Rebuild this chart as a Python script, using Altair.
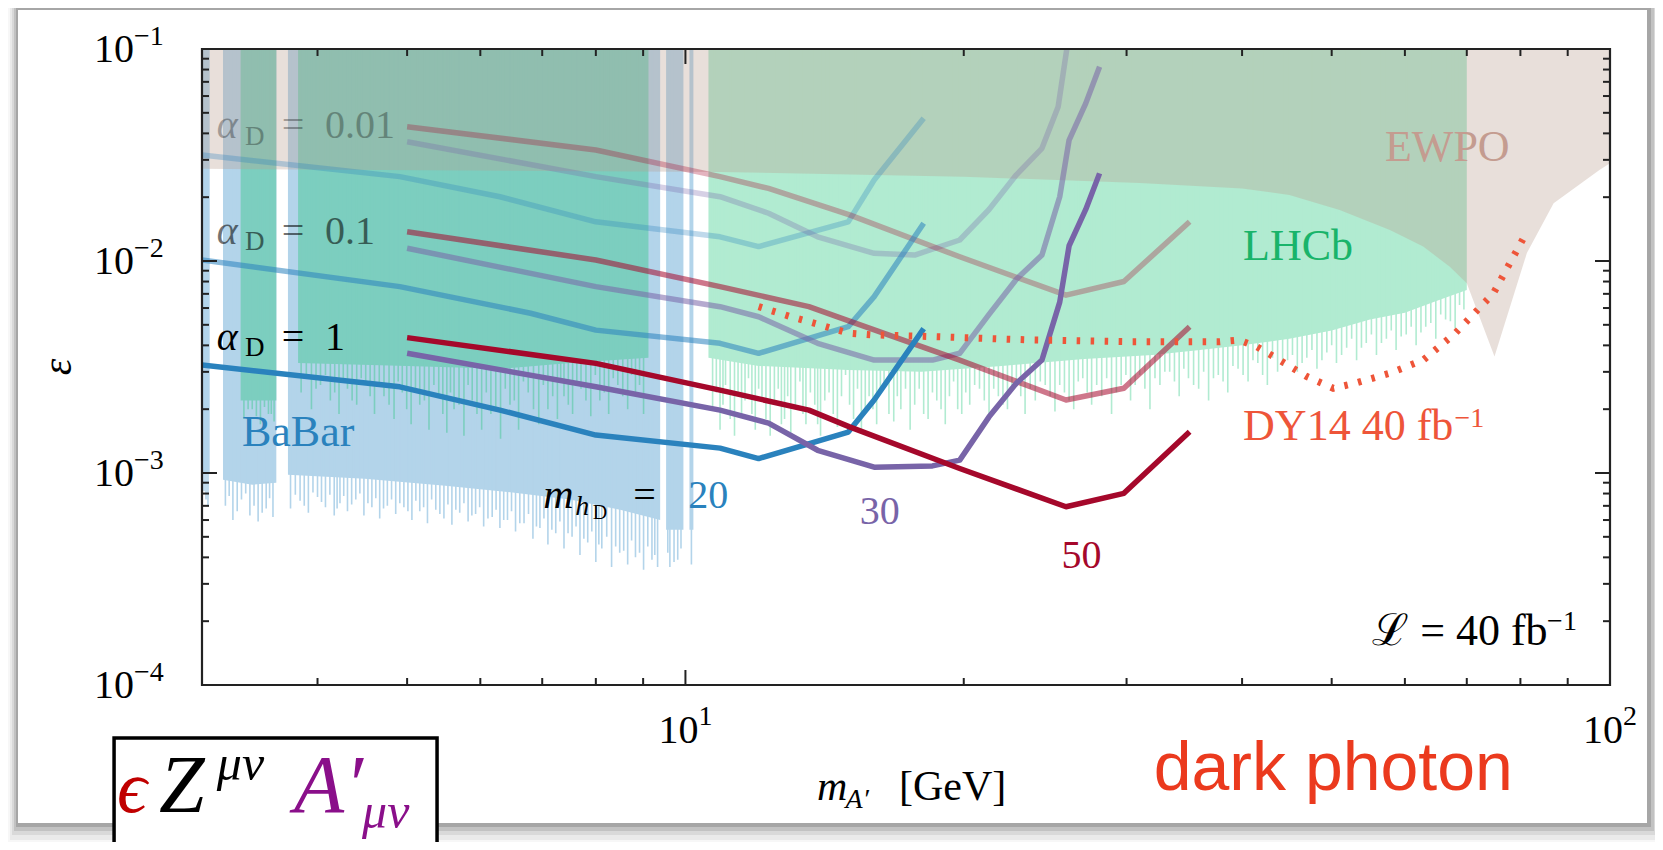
import altair as alt
import pandas as pd

SERIF = "Liberation Serif"
SANS = "Liberation Sans"
W, H = 1408, 636

# ---------------- axis ticks ----------------
x_major_ticks = [10]
x_minor_ticks = [4, 5, 6, 7, 8, 9, 20, 30, 40, 50, 60, 70, 80, 90]
y_major_ticks = [1e-3, 1e-2]
y_minor_ticks = [2e-4, 3e-4, 4e-4, 5e-4, 6e-4, 7e-4, 8e-4, 9e-4,
                 2e-3, 3e-3, 4e-3, 5e-3, 6e-3, 7e-3, 8e-3, 9e-3,
                 2e-2, 3e-2, 4e-2, 5e-2, 6e-2, 7e-2, 8e-2, 9e-2]
x_label_vals = [10, 100]
x_label_exps = ["1", "2"]
y_label_vals = [1e-4, 1e-3, 1e-2, 1e-1]
y_label_exps = ["\u22124", "\u22123", "\u22122", "\u22121"]

# ---------------- sensitivity curves (m_A' [GeV], epsilon) ----------------
m_h20_a1 = [3.0, 4.91, 6.3, 8.0, 10.9, 12.0, 15.0, 16.0, 18.1]
e_h20_a1 = [3.23e-3, 2.55e-3, 1.98e-3, 1.51e-3, 1.31e-3, 1.17e-3, 1.56e-3, 2.21e-3, 4.8e-3]
m_h20_a01 = [3.0, 4.91, 6.8, 8.0, 10.9, 12.0, 15.0, 16.0, 18.1]
e_h20_a01 = [1.01e-2, 7.57e-3, 5.67e-3, 4.72e-3, 4.09e-3, 3.67e-3, 4.9e-3, 6.79e-3, 1.506e-2]
m_h20_a001 = [3.0, 4.91, 6.3, 8.0, 10.9, 12.0, 15.0, 16.0, 18.1]
e_h20_a001 = [3.16e-2, 2.50e-2, 2.01e-2, 1.53e-2, 1.30e-2, 1.17e-2, 1.53e-2, 2.41e-2, 4.71e-2]

m_h30_a1 = [5.0, 8.0, 10.9, 12.3, 13.9, 16.0, 18.5, 19.8, 21.3, 22.8, 24.3, 25.4, 26.0, 27.1, 28.05]
e_h30_a1 = [3.67e-3, 2.55e-3, 1.98e-3, 1.72e-3, 1.28e-3, 1.065e-3, 1.08e-3, 1.15e-3, 1.84e-3,
            2.65e-3, 3.41e-3, 6.4e-3, 1.18e-2, 1.75e-2, 2.59e-2]
m_h30_a01 = [5.0, 8.0, 10.9, 12.0, 13.9, 16.0, 18.5, 19.8, 21.3, 22.8, 24.3, 25.4, 26.0, 27.1, 28.05]
e_h30_a01 = [1.148e-2, 7.57e-3, 6.09e-3, 5.46e-3, 4.09e-3, 3.41e-3, 3.41e-3, 3.67e-3, 5.6e-3,
             8.2e-3, 1.067e-2, 2.01e-2, 3.72e-2, 5.54e-2, 8.25e-2]
m_h30_a001 = [5.0, 8.0, 10.9, 12.3, 13.9, 16.0, 17.7, 19.8, 21.3, 22.8, 24.3, 25.3, 26.0]
e_h30_a001 = [3.65e-2, 2.50e-2, 2.01e-2, 1.68e-2, 1.30e-2, 1.087e-2, 1.067e-2, 1.256e-2, 1.75e-2,
              2.55e-2, 3.4e-2, 5.34e-2, 1.18e-1]

m_h50_a1 = [5.0, 8.0, 10.9, 13.6, 15.05, 19.8, 25.8, 29.8, 35.1]
e_h50_a1 = [4.35e-3, 3.29e-3, 2.46e-3, 1.98e-3, 1.65e-3, 1.05e-3, 6.93e-4, 8.02e-4, 1.566e-3]
m_h50_a01 = [5.0, 8.0, 10.9, 13.6, 15.05, 19.8, 25.8, 29.8, 35.1]
e_h50_a01 = [1.374e-2, 1.011e-2, 7.57e-3, 6.09e-3, 5.2e-3, 3.41e-3, 2.21e-3, 2.51e-3, 4.9e-3]
m_h50_a001 = [5.0, 8.0, 10.9, 12.3, 15.05, 19.8, 25.8, 29.8, 35.1]
e_h50_a001 = [4.30e-2, 3.34e-2, 2.50e-2, 2.20e-2, 1.65e-2, 1.047e-2, 6.9e-3, 8.0e-3, 1.532e-2]

# DY14 40 fb^-1 projection (dotted)
dy_m = [12.0, 13.0, 14.0, 15.0, 16.0, 18.5, 23.7, 30.4, 37.8, 39.7, 41.5, 43.9, 47.0, 50.2,
        53.0, 57.7, 62.8, 68.0, 74.8, 80.6]
dy_e = [6.09e-3, 5.46e-3, 4.99e-3, 4.57e-3, 4.48e-3, 4.40e-3, 4.24e-3, 4.16e-3, 4.16e-3,
        4.24e-3, 3.94e-3, 3.41e-3, 2.85e-3, 2.51e-3, 2.65e-3, 2.95e-3, 3.41e-3, 4.56e-3,
        7.04e-3, 1.28e-2]

# ---------------- excluded regions ----------------
ewpo_m = [3.0, 10.9, 20.0, 31.0, 40.0, 45.0, 51.0, 57.8, 62.8, 67.1, 70.0, 75.0, 81.3, 86.9, 97.4, 100.0]
ewpo_e = [2.72e-2, 2.63e-2, 2.50e-2, 2.33e-2, 2.20e-2, 2.05e-2, 1.74e-2, 1.40e-2, 1.17e-2,
          9.4e-3, 7.85e-3, 3.54e-3, 1.09e-2, 1.87e-2, 2.69e-2, 2.89e-2]

babar_m = [3.0, 3.058, 3.161, 3.4, 3.61, 3.716, 4.5, 5.5, 6.5, 7.5, 8.5, 9.39, 9.53, 9.95, 10.10, 10.20]
babar_e = [1.0e-3, 1.0e-3, 9.3e-4, 8.8e-4, 9.0e-4, 9.8e-4, 9.4e-4, 8.7e-4, 8.1e-4, 7.5e-4, 6.7e-4,
           6.0e-4, 5.4e-4, 5.4e-4, 5.4e-4, 5.4e-4]
babar_seg = [1, 1, 2, 2, 2, 3, 3, 3, 3, 3, 3, 3, 4, 4, 5, 5]
babar_spike_m = [3.03, 3.18, 3.24, 3.31, 3.38, 3.45, 3.52, 3.58,
                 3.74, 3.83, 3.91, 4.00, 4.08, 4.17, 4.23, 4.31, 4.40, 4.49,
                 4.58, 4.67, 4.76, 4.86, 4.96, 5.06, 5.16, 5.26, 5.37, 5.48,
                 5.59, 5.70, 5.82, 5.93, 6.05, 6.18, 6.30, 6.42, 6.55, 6.69,
                 6.84, 6.96, 7.10, 7.24, 7.39, 7.54, 7.69, 7.84, 8.00, 8.12,
                 8.32, 8.49, 8.66, 8.83, 9.01, 9.20, 9.33, 9.62, 9.81, 10.15]
babar_spike_e = [7.5e-4, 7.0e-4, 6.0e-4, 7.5e-4, 6.3e-4, 5.9e-4, 6.8e-4, 6.2e-4,
                 6.8e-4, 7.4e-4, 6.5e-4, 7.7e-4, 6.9e-4, 6.3e-4, 7.2e-4, 6.6e-4, 7.5e-4, 6.3e-4,
                 6.9e-4, 6.1e-4, 7.0e-4, 6.4e-4, 6.9e-4, 6.0e-4, 6.6e-4, 5.8e-4, 6.7e-4, 6.1e-4,
                 5.7e-4, 6.5e-4, 5.9e-4, 6.4e-4, 5.6e-4, 6.2e-4, 5.5e-4, 6.0e-4, 5.3e-4, 5.8e-4,
                 4.9e-4, 5.5e-4, 4.6e-4, 5.2e-4, 4.4e-4, 5.0e-4, 4.1e-4, 4.7e-4, 3.8e-4, 4.4e-4,
                 3.6e-4, 4.2e-4, 3.7e-4, 4.0e-4, 3.5e-4, 3.9e-4, 3.6e-4, 3.6e-4, 3.9e-4, 3.7e-4]
babar_spike2_m = [3.015, 3.045,
                  3.21, 3.275, 3.345, 3.415, 3.485, 3.55,
                  3.785, 3.87, 3.955, 4.04, 4.125, 4.20, 4.27, 4.355, 4.445, 4.535,
                  4.625, 4.715, 4.81, 4.91, 5.01, 5.11, 5.21, 5.315, 5.425, 5.535,
                  5.645, 5.76, 5.875, 5.99, 6.115, 6.24, 6.36, 6.485, 6.62, 6.765,
                  6.90, 7.03, 7.17, 7.315, 7.465, 7.615, 7.765, 7.92, 8.06, 8.22,
                  8.405, 8.575, 8.745, 8.92, 9.105, 9.265,
                  9.57, 9.72, 9.89]
babar_spike2_e = [8.2e-4, 7.0e-4,
                  7.8e-4, 6.6e-4, 8.0e-4, 7.0e-4, 6.5e-4, 7.6e-4,
                  7.9e-4, 7.0e-4, 8.1e-4, 7.3e-4, 7.9e-4, 6.8e-4, 7.8e-4, 7.1e-4, 8.0e-4, 7.2e-4,
                  7.6e-4, 6.8e-4, 7.5e-4, 7.2e-4, 6.6e-4, 7.4e-4, 6.9e-4, 7.5e-4, 6.4e-4, 7.1e-4,
                  6.7e-4, 7.2e-4, 6.3e-4, 6.9e-4, 6.1e-4, 6.7e-4, 6.0e-4, 6.6e-4, 5.8e-4, 6.4e-4,
                  5.6e-4, 6.1e-4, 5.4e-4, 5.9e-4, 5.2e-4, 5.6e-4, 4.9e-4, 5.3e-4, 4.6e-4, 5.0e-4,
                  4.5e-4, 4.3e-4, 4.8e-4, 4.2e-4, 4.5e-4, 4.1e-4,
                  4.2e-4, 3.8e-4, 4.4e-4]

lhcb_lo_m = [3.303, 3.61, 3.811, 5.0, 6.3, 7.5, 9.12]
lhcb_lo_e = [2.2e-3, 2.2e-3, 3.3e-3, 3.2e-3, 3.1e-3, 3.3e-3, 3.5e-3]
lhcb_lo_seg = [1, 1, 2, 2, 2, 2, 2]
lhcb_lo_spike_m = [3.33, 3.40, 3.47, 3.54, 3.59,
                   3.84, 3.94, 4.03, 4.13, 4.22, 4.31, 4.41, 4.51, 4.61, 4.72,
                   4.84, 4.94, 5.05, 5.16, 5.28, 5.41, 5.52, 5.62, 5.76, 5.88,
                   6.02, 6.16, 6.31, 6.46, 6.60, 6.76, 6.94, 7.10, 7.27, 7.39,
                   7.55, 7.71, 7.90, 8.08, 8.26, 8.45, 8.66, 8.83, 9.01]
lhcb_lo_spike_e = [1.8e-3, 2.0e-3, 1.7e-3, 1.9e-3, 1.75e-3,
                   2.4e-3, 2.0e-3, 2.6e-3, 2.2e-3, 1.9e-3, 2.5e-3, 2.1e-3, 2.7e-3, 1.9e-3, 2.3e-3,
                   1.8e-3, 2.4e-3, 1.7e-3, 2.1e-3, 1.6e-3, 2.3e-3, 1.55e-3, 2.0e-3, 1.5e-3, 2.2e-3,
                   1.6e-3, 1.9e-3, 1.45e-3, 2.1e-3, 1.6e-3, 2.4e-3, 1.7e-3, 2.0e-3, 1.8e-3, 2.3e-3,
                   1.9e-3, 2.5e-3, 1.85e-3, 2.2e-3, 1.9e-3, 2.6e-3, 2.0e-3, 2.4e-3, 1.9e-3]
lhcb_lo_spike2_m = [3.365, 3.435, 3.505, 3.565,
                    3.89, 3.985, 4.08, 4.175, 4.265, 4.36, 4.46, 4.56, 4.665, 4.78,
                    4.89, 4.995, 5.105, 5.22, 5.345, 5.465, 5.57, 5.69, 5.82, 5.95,
                    6.09, 6.235, 6.385, 6.53, 6.68, 6.85, 7.02, 7.185, 7.33, 7.47,
                    7.63, 7.805, 7.99, 8.17, 8.355, 8.555, 8.745, 8.92]
lhcb_lo_spike2_e = [2.0e-3, 1.85e-3, 2.05e-3, 1.9e-3,
                    2.8e-3, 2.5e-3, 2.9e-3, 2.4e-3, 2.7e-3, 2.2e-3, 2.8e-3, 2.3e-3, 2.6e-3, 2.1e-3,
                    2.7e-3, 2.0e-3, 2.5e-3, 2.2e-3, 2.6e-3, 1.9e-3, 2.4e-3, 2.1e-3, 2.6e-3, 1.9e-3,
                    2.4e-3, 2.0e-3, 2.5e-3, 2.2e-3, 2.7e-3, 2.0e-3, 2.6e-3, 2.3e-3, 2.8e-3, 2.1e-3,
                    2.7e-3, 2.2e-3, 2.9e-3, 2.4e-3, 2.8e-3, 2.3e-3, 2.9e-3, 2.6e-3]

lhcb_hi_m = [10.59, 12.0, 15.0, 18.0, 22.0, 27.0, 32.0, 36.0, 40.0, 45.0, 50.0, 55.0, 60.0, 65.0, 70.0]
lhcb_hi_e = [3.5e-3, 3.2e-3, 3.06e-3, 3.0e-3, 3.2e-3, 3.45e-3, 3.6e-3, 3.8e-3, 4.0e-3, 4.3e-3,
             4.7e-3, 5.3e-3, 5.7e-3, 6.5e-3, 7.3e-3]
lhcb_hi_spike_m = [10.7, 10.9, 11.05, 11.3, 11.5, 11.7, 11.9, 12.1, 12.35, 12.6,
                   12.8, 13.0, 13.3, 13.5, 13.8, 14.0, 14.3, 14.6, 14.9, 15.2,
                   15.5, 15.8, 16.1, 16.4, 16.8, 17.1, 17.5, 17.9, 18.3, 18.7,
                   19.1, 19.5, 19.9, 20.3, 20.8, 21.3, 21.8, 22.3, 22.8, 23.3,
                   23.9, 24.5, 25.1, 25.7, 26.3, 26.9, 27.5, 28.2, 28.9, 29.6,
                   30.3, 31.0, 31.8, 32.6, 33.4, 34.2, 35.0, 35.9, 36.8, 37.7,
                   38.6, 39.6, 40.6, 41.6, 42.6, 43.7, 44.8, 45.9, 47.0, 48.2,
                   49.4, 50.6, 51.9, 53.2, 54.5, 55.9, 57.3, 58.7, 60.2, 61.7,
                   63.2, 64.8, 66.4, 68.0, 69.5]
lhcb_hi_spike_e = [2.0e-3, 1.6e-3, 2.6e-3, 1.5e-3, 1.9e-3, 2.8e-3, 1.6e-3, 2.2e-3, 1.5e-3, 2.5e-3,
                   1.8e-3, 1.55e-3, 2.7e-3, 1.7e-3, 2.1e-3, 1.5e-3, 2.4e-3, 1.65e-3, 2.9e-3, 1.8e-3,
                   1.6e-3, 2.3e-3, 1.7e-3, 2.6e-3, 1.75e-3, 2.0e-3, 1.6e-3, 2.5e-3, 1.8e-3, 2.2e-3,
                   1.7e-3, 2.7e-3, 1.9e-3, 2.1e-3, 2.5e-3, 1.85e-3, 2.3e-3, 2.0e-3, 2.7e-3, 1.9e-3,
                   2.2e-3, 2.6e-3, 1.95e-3, 2.4e-3, 2.0e-3, 2.8e-3, 2.1e-3, 2.3e-3, 1.9e-3, 2.6e-3,
                   2.2e-3, 2.9e-3, 2.0e-3, 2.6e-3, 3.0e-3, 2.3e-3, 2.8e-3, 2.5e-3, 2.2e-3, 2.9e-3,
                   2.4e-3, 3.1e-3, 2.7e-3, 3.3e-3, 2.6e-3, 3.0e-3, 3.4e-3, 3.0e-3, 3.5e-3, 3.1e-3,
                   3.7e-3, 3.3e-3, 3.9e-3, 3.4e-3, 4.1e-3, 3.6e-3, 4.3e-3, 3.8e-3, 4.5e-3, 4.0e-3,
                   4.9e-3, 4.3e-3, 5.3e-3, 4.8e-3, 5.9e-3]
lhcb_hi_spike2_m = [10.8, 10.98, 11.18, 11.4, 11.6, 11.8, 12.0, 12.22, 12.48, 12.7,
                    12.9, 13.15, 13.4, 13.65, 13.9, 14.15, 14.45, 14.75, 15.05, 15.35,
                    15.65, 15.95, 16.25, 16.6, 16.95, 17.3, 17.7, 18.1, 18.5, 18.9,
                    19.3, 19.7, 20.1, 20.55, 21.05, 21.55, 22.05, 22.55, 23.05, 23.6,
                    24.2, 24.8, 25.4, 26.0, 26.6, 27.2, 27.85, 28.55, 29.25, 29.95,
                    30.65, 31.4, 32.2, 33.0, 33.8, 34.6, 35.45, 36.35, 37.25, 38.15,
                    39.1, 40.1, 41.1, 42.1, 43.15, 44.25, 45.35, 46.45, 47.6, 48.8,
                    50.0, 51.25, 52.55, 53.85, 55.2, 56.6, 58.0, 59.45, 60.95, 62.45,
                    64.0, 65.6, 67.2, 68.75]
lhcb_hi_spike2_e = [2.4e-3, 2.1e-3, 1.8e-3, 2.3e-3, 2.2e-3, 1.9e-3, 2.5e-3, 1.8e-3, 2.1e-3, 1.7e-3,
                    2.3e-3, 2.0e-3, 1.9e-3, 2.4e-3, 1.7e-3, 2.2e-3, 1.9e-3, 2.3e-3, 2.1e-3, 2.5e-3,
                    1.9e-3, 2.0e-3, 2.4e-3, 1.9e-3, 2.3e-3, 2.5e-3, 2.1e-3, 1.9e-3, 2.4e-3, 2.0e-3,
                    2.3e-3, 2.0e-3, 2.4e-3, 2.6e-3, 2.2e-3, 2.5e-3, 2.1e-3, 2.6e-3, 2.3e-3, 2.5e-3,
                    2.7e-3, 2.3e-3, 2.6e-3, 2.2e-3, 2.7e-3, 2.4e-3, 2.6e-3, 2.8e-3, 2.4e-3, 2.9e-3,
                    2.6e-3, 2.5e-3, 2.8e-3, 3.0e-3, 2.7e-3, 3.1e-3, 2.6e-3, 3.0e-3, 2.8e-3, 2.7e-3,
                    3.2e-3, 2.9e-3, 3.4e-3, 2.9e-3, 3.5e-3, 3.2e-3, 3.6e-3, 3.3e-3, 3.8e-3, 3.4e-3,
                    4.0e-3, 3.6e-3, 4.3e-3, 3.9e-3, 4.5e-3, 4.1e-3, 4.7e-3, 4.4e-3, 4.9e-3, 4.6e-3,
                    5.1e-3, 5.6e-3, 5.2e-3, 6.2e-3]

# ---------------- colours ----------------
BLUE = "#2a82bd"
PURPLE = "#7864a8"
RED = "#a5082b"
C_BABAR = "#b3d4ea"
C_LHCB_LO = "#7ccebf"
C_LHCB_HI = "#b1ebd1"
C_EWPO = "#b99e8f"
C_DY = "#ee5539"

XS = alt.Scale(type="log", domain=[3, 100], nice=False)
YS = alt.Scale(type="log", domain=[1e-4, 1e-1], nice=False)
one = pd.DataFrame({"d": [0]})


def X(f):
    return alt.X(f, type="quantitative", scale=XS, axis=None)


def Y(f):
    return alt.Y(f, type="quantitative", scale=YS, axis=None)


def XD(v):
    return alt.XDatum(v, type="quantitative", scale=XS, axis=None)


def YD(v):
    return alt.YDatum(v, type="quantitative", scale=YS, axis=None)


def txt(s, m, e, size, color="#000000", style="normal", align="left",
        baseline="alphabetic", opacity=1.0, font=SERIF, angle=0):
    mk = dict(text=s, fontSize=size, color=color, fontStyle=style, align=align,
              baseline=baseline, font=font, opacity=opacity)
    if angle:
        mk["angle"] = angle
    return alt.Chart(one).mark_text(**mk).encode(x=XD(m), y=YD(e))


layers = []

# ---- card with drop shadow (decoration) ----
for (x1, y1, x2, y2, op) in [(-194, -45, 1461, 796, 0.03), (-192, -44, 1458, 791, 0.05),
                             (-190, -43, 1455, 786, 0.07), (-188, -42, 1452, 782, 0.10),
                             (-186, -41, 1449, 778, 0.14)]:
    layers.append(alt.Chart(one).mark_rect(color="#000000", opacity=op).encode(
        x=alt.value(x1), x2=alt.value(x2), y=alt.value(y1), y2=alt.value(y2)))
layers.append(alt.Chart(one).mark_rect(color="#ffffff").encode(
    x=alt.value(-184), x2=alt.value(1445), y=alt.value(-39), y2=alt.value(774)))


# ---- regions ----
def region(m, e, seg, color, op=1.0):
    df = pd.DataFrame({"m": m, "e": e, "seg": seg})
    df["top"] = 0.1
    return alt.Chart(df).mark_area(color=color, opacity=op).encode(
        x=X("m"), y=Y("e"), y2=alt.Y2("top"), detail="seg:N")


def spikes(m, e, color):
    df = pd.DataFrame({"m": m, "e": e})
    df["top"] = 0.1
    return alt.Chart(df).mark_rule(color=color, strokeWidth=1.6).encode(
        x=X("m"), y=Y("e"), y2=alt.Y2("top"))


layers.append(region(babar_m, babar_e, babar_seg, C_BABAR))
layers.append(spikes(babar_spike_m + babar_spike2_m, babar_spike_e + babar_spike2_e, C_BABAR))
layers.append(region(lhcb_lo_m, lhcb_lo_e, lhcb_lo_seg, C_LHCB_LO))
layers.append(spikes(lhcb_lo_spike_m + lhcb_lo_spike2_m, lhcb_lo_spike_e + lhcb_lo_spike2_e, C_LHCB_LO))
layers.append(region(lhcb_hi_m, lhcb_hi_e, [1] * len(lhcb_hi_m), C_LHCB_HI))
layers.append(spikes(lhcb_hi_spike_m + lhcb_hi_spike2_m, lhcb_hi_spike_e + lhcb_hi_spike2_e, C_LHCB_HI))
layers.append(region(ewpo_m, ewpo_e, [1] * len(ewpo_m), C_EWPO, 0.33))

# ---- curves ----
curves = [
    (m_h20_a001, e_h20_a001, BLUE, 0.3), (m_h30_a001, e_h30_a001, PURPLE, 0.3), (m_h50_a001, e_h50_a001, RED, 0.3),
    (m_h20_a01, e_h20_a01, BLUE, 0.55), (m_h30_a01, e_h30_a01, PURPLE, 0.55), (m_h50_a01, e_h50_a01, RED, 0.55),
    (m_h20_a1, e_h20_a1, BLUE, 1.0), (m_h30_a1, e_h30_a1, PURPLE, 1.0), (m_h50_a1, e_h50_a1, RED, 1.0),
]
for m, e, col, op in curves:
    df = pd.DataFrame({"m": m, "e": e})
    layers.append(alt.Chart(df).mark_line(color=col, opacity=op, strokeWidth=5.5, clip=True,
                                          strokeJoin="round").encode(x=X("m"), y=Y("e")))

dfdy = pd.DataFrame({"m": dy_m, "e": dy_e})
layers.append(alt.Chart(dfdy).mark_line(color=C_DY, strokeWidth=7, strokeDash=[3.5, 10.5],
                                        clip=True).encode(x=X("m"), y=Y("e")))

# ---- in-plot labels ----
for base, sub, val, op in [(0.03803, 0.03525, "0.01", 0.3), (0.01203, 0.01127, "0.1", 0.55),
                           (3.803e-3, 3.563e-3, "1", 1.0)]:
    layers.append(txt("\u03b1", 3.113, base, 40, style="italic", opacity=op))
    layers.append(txt("D", 3.339, sub, 27, opacity=op))
    layers.append(txt("=", 3.66, base, 40, opacity=op))
    layers.append(txt(val, 4.075, base, 40, opacity=op))

layers.append(txt("BaBar", 3.314, 1.341e-3, 44, color=BLUE))
layers.append(txt("m", 7.02, 6.82e-4, 42, style="italic"))
layers.append(txt("h", 7.6, 6.34e-4, 28, style="italic"))
layers.append(txt("D", 7.94, 6.07e-4, 20))
layers.append(txt("=", 8.78, 6.82e-4, 40))
layers.append(txt("20", 10.07, 6.82e-4, 40, color=BLUE))
layers.append(txt("30", 15.44, 5.75e-4, 40, color=PURPLE))
layers.append(txt("50", 25.52, 3.553e-4, 40, color=RED))
layers.append(txt("LHCb", 40.1, 0.01011, 44, color="#19b46a"))
layers.append(txt("EWPO", 57.1, 0.02972, 44, color="#c49c90"))
layers.append(txt("DY14 40 fb", 40.1, 1.431e-3, 44, color=C_DY))
layers.append(txt("\u22121", 67.9, 1.654e-3, 28, color=C_DY))
layers.append(txt("\u2112 = 40 fb", 55.3, 1.544e-4, 44))
layers.append(txt("\u22121", 85.5, 1.817e-4, 28))

# ---- frame and inward ticks ----
TICK = "#222222"


def xticks(vals, length):
    df = pd.DataFrame({"t": vals})
    a = alt.Chart(df).mark_rule(color=TICK, strokeWidth=2).encode(
        x=X("t"), y=alt.value(H), y2=alt.value(H - length))
    b = alt.Chart(df).mark_rule(color=TICK, strokeWidth=2).encode(
        x=X("t"), y=alt.value(0), y2=alt.value(length))
    return [a, b]


def yticks(vals, length):
    df = pd.DataFrame({"t": vals})
    a = alt.Chart(df).mark_rule(color=TICK, strokeWidth=2).encode(
        y=Y("t"), x=alt.value(0), x2=alt.value(length))
    b = alt.Chart(df).mark_rule(color=TICK, strokeWidth=2).encode(
        y=Y("t"), x=alt.value(W), x2=alt.value(W - length))
    return [a, b]


layers += xticks(x_minor_ticks, 7) + xticks(x_major_ticks, 15)
layers += yticks(y_minor_ticks, 7) + yticks(y_major_ticks, 15)
layers.append(alt.Chart(one).mark_rect(fillOpacity=0, stroke=TICK, strokeWidth=2.2).encode(
    x=alt.value(0), x2=alt.value(W), y=alt.value(0), y2=alt.value(H)))

# ---- tick labels ----
dfyl = pd.DataFrame({"v": y_label_vals, "ex": y_label_exps})
layers.append(alt.Chart(dfyl).mark_text(text="10", font=SERIF, fontSize=40, align="right",
                                        baseline="alphabetic", dy=13).encode(
    x=alt.value(-68), y=Y("v")))
layers.append(alt.Chart(dfyl).mark_text(font=SERIF, fontSize=28, align="left",
                                        baseline="alphabetic", dy=-4).encode(
    x=alt.value(-68), y=Y("v"), text="ex:N"))
dfxl = pd.DataFrame({"v": x_label_vals, "ex": x_label_exps})
layers.append(alt.Chart(dfxl).mark_text(text="10", font=SERIF, fontSize=40, align="right",
                                        baseline="alphabetic", dx=13).encode(
    x=X("v"), y=alt.value(694)))
layers.append(alt.Chart(dfxl).mark_text(font=SERIF, fontSize=28, align="left",
                                        baseline="alphabetic", dx=13).encode(
    x=X("v"), y=alt.value(676), text="ex:N"))

# ---- axis titles ----
layers.append(txt("\u03b5", 2.096, 3.162e-3, 42, style="italic", align="center",
                  baseline="middle", angle=270))
layers.append(txt("m", 13.88, 2.868e-5, 42, style="italic"))
layers.append(txt("A\u2032", 14.9, 2.63e-5, 28, style="italic"))
layers.append(txt("[GeV]", 17.02, 2.868e-5, 42))

# ---- operator box and caption ----
dfbox = pd.DataFrame({"x1": [2.41], "x2": [5.387], "y1": [5.62e-5], "y2": [1.4e-5]})
layers.append(alt.Chart(dfbox).mark_rect(color="#ffffff", stroke="#000000", strokeWidth=3.5).encode(
    x=X("x1"), x2=alt.X2("x2"), y=Y("y1"), y2=alt.Y2("y2")))
layers.append(txt("\u03f5", 2.428, 2.518e-5, 74, color="#c00000", style="italic"))
layers.append(txt("Z", 2.696, 2.518e-5, 82, style="italic"))
layers.append(txt("\u03bc\u03bd", 3.113, 3.565e-5, 50, style="italic"))
layers.append(txt("A", 3.772, 2.518e-5, 82, color="#8a0f8a", style="italic"))
layers.append(txt("\u2032", 4.284, 2.518e-5, 82, color="#8a0f8a", style="italic"))
layers.append(txt("\u03bc\u03bd", 4.47, 2.12e-5, 50, color="#8a0f8a", style="italic"))
layers.append(txt("dark photon", 32.1, 3.197e-5, 68, color="#eb3a1e", font=SANS))

chart = alt.layer(*layers).properties(
    width=W, height=H,
    padding={"left": 194, "top": 41, "right": 45, "bottom": 157},
    autosize=alt.AutoSizeParams(type="none"),
).configure_view(strokeWidth=0)

chart.save("out.html", embed_options={"renderer": "svg", "actions": False})
